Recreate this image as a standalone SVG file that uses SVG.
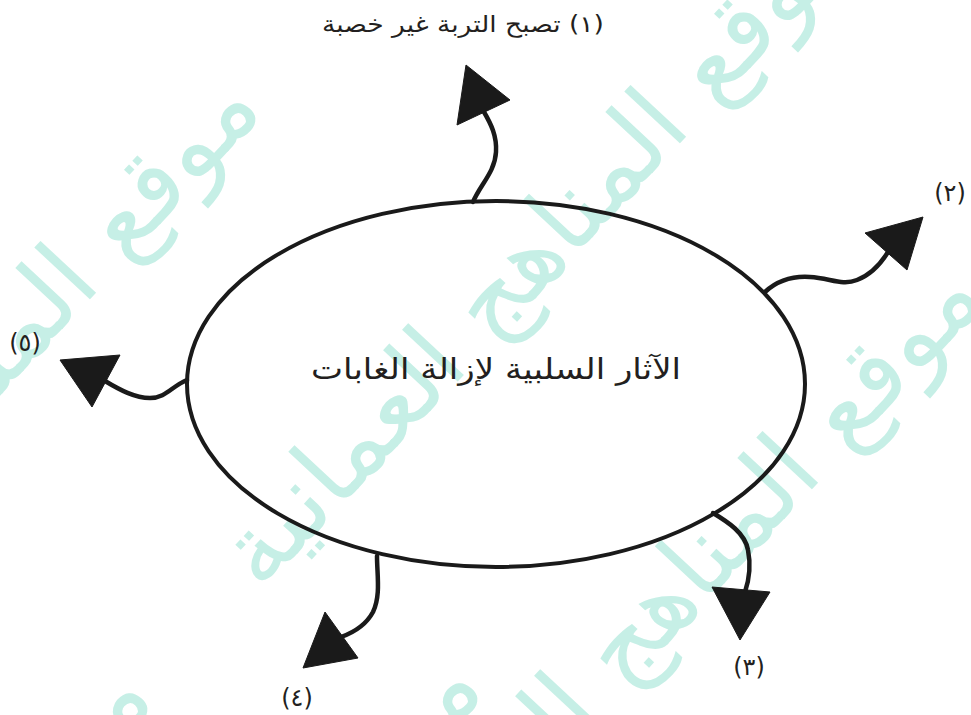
<svg xmlns="http://www.w3.org/2000/svg" width="971" height="715" viewBox="0 0 971 715">
  <style>
    .wm { font-family: "DejaVu Sans", sans-serif; font-size: 100px; fill: #c6efe6; }
    .lbl { font-family: "DejaVu Sans", sans-serif; fill: #231f20; }
    .num { font-size: 24px; text-anchor: middle; letter-spacing: 2px; }
    .conn path { fill: none; stroke: #1a1a1a; stroke-width: 4.5; stroke-linecap: round; }
    .conn polygon { fill: #1a1a1a; stroke: #1a1a1a; stroke-width: 1; stroke-linejoin: miter; }
    .hub { fill: none; stroke: #1a1a1a; stroke-width: 4; }
  </style>
  <rect width="971" height="715" fill="#ffffff"/>

  <g id="watermark">
    <text class="wm" direction="rtl" text-anchor="middle" transform="translate(558,274) rotate(-47)">موقع المناهج العمانية</text>
    <text class="wm" direction="rtl" text-anchor="middle" transform="translate(-32,430) rotate(-47)">موقع المناهج العمانية</text>
    <text class="wm" direction="rtl" text-anchor="middle" transform="translate(690,620) rotate(-47)">موقع المناهج العمانية</text>
    <text class="wm" direction="rtl" text-anchor="middle" transform="translate(190,1010) rotate(-47)">موقع المناهج العمانية</text>
    <text class="wm" direction="rtl" text-anchor="middle" transform="translate(-140,1020) rotate(-47)">موقع المناهج العمانية</text>
  </g>

  <g id="connectors" class="conn">
    <path d="M473,202 C480,185 495,172 496,152 C497,136 491,124 484,112"/>
    <polygon points="466,65 510,100 457,125"/>
    <path d="M765,292 C778,280 795,276 810,277 C830,278 842,286 857,280 C870,275 880,265 888,252"/>
    <polygon points="923,217 865,233 907,270"/>
    <path d="M713,513 C728,522 745,533 748,550 C751,565 749,580 745,592"/>
    <polygon points="740,640 712,587 770,592"/>
    <path d="M377,556 C377,575 381,595 373,612 C366,625 355,632 341,637"/>
    <polygon points="303,668 325,612 358,658"/>
    <path d="M187,380 C172,386 166,398 150,398 C135,398 120,390 105,381"/>
    <polygon points="60,360 120,355 92,407"/>
  </g>

  <g id="hub">
    <ellipse class="hub" cx="496" cy="384" rx="309" ry="183"/>
    <text class="lbl" x="496" y="379" font-size="29" text-anchor="middle" direction="rtl" textLength="370" lengthAdjust="spacingAndGlyphs">الآثار السلبية لإزالة الغابات</text>
  </g>

  <g id="label-1">
    <text class="lbl" x="463" y="32" font-size="23" text-anchor="middle" direction="rtl" textLength="282" lengthAdjust="spacingAndGlyphs">(١) تصبح التربة غير خصبة</text>
  </g>
  <g id="label-2">
    <text class="lbl num" x="950" y="201">(٢)</text>
  </g>
  <g id="label-3">
    <text class="lbl num" x="749" y="675">(٣)</text>
  </g>
  <g id="label-4">
    <text class="lbl num" x="297" y="706">(٤)</text>
  </g>
  <g id="label-5">
    <text class="lbl num" x="25" y="351">(٥)</text>
  </g>
</svg>
